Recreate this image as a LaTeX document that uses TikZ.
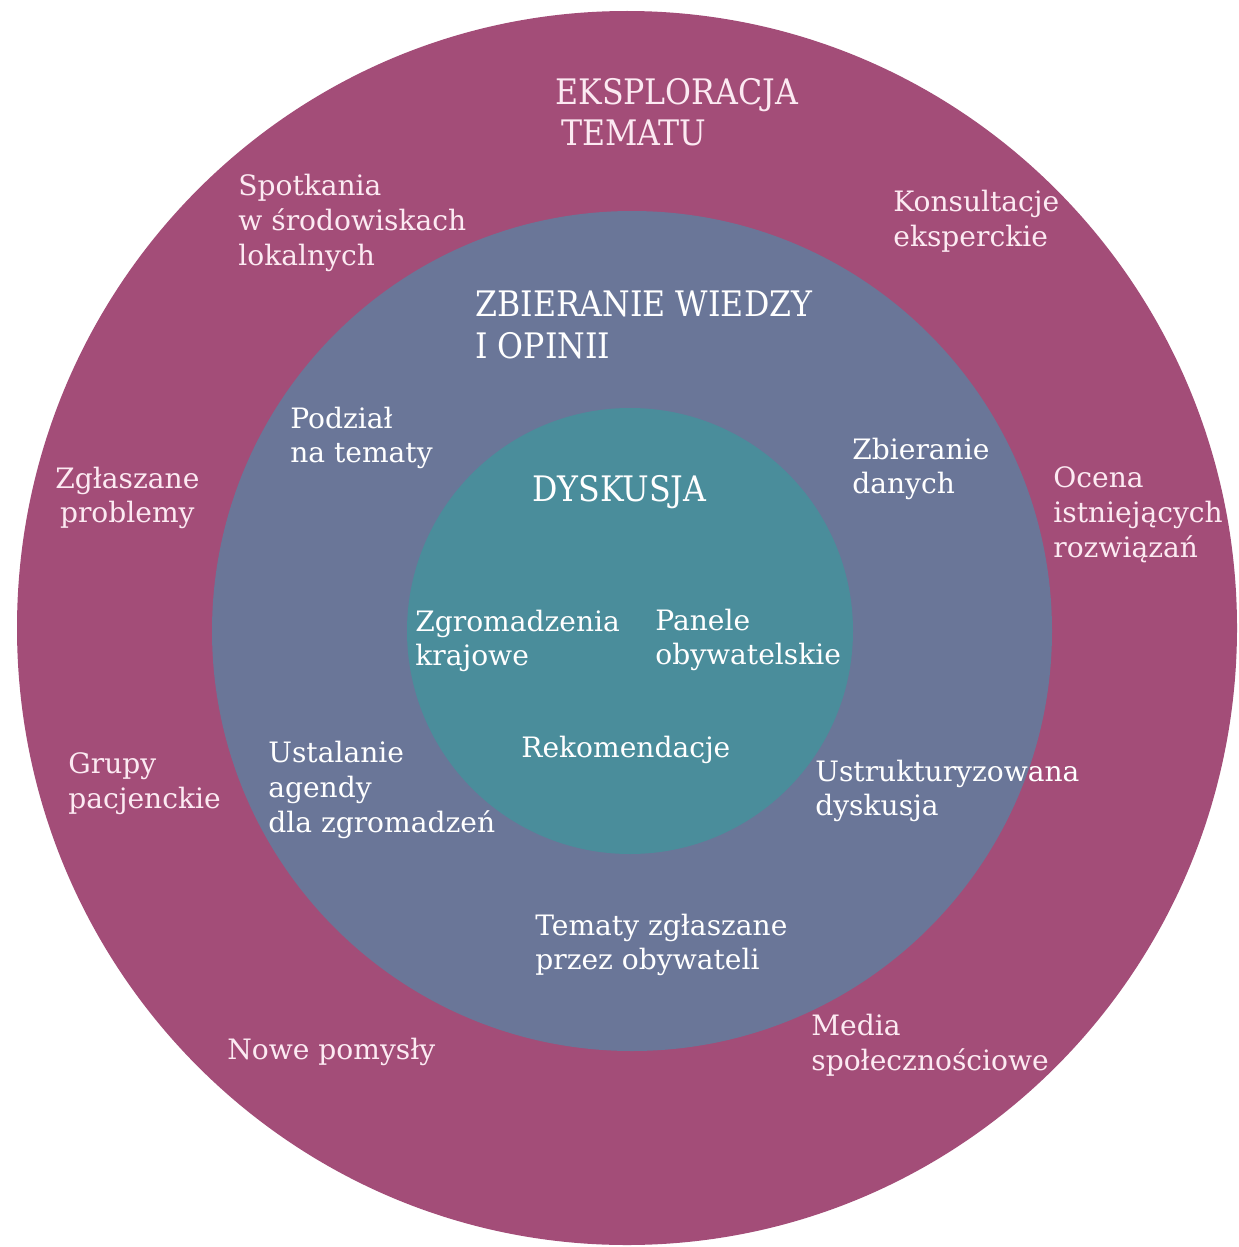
\documentclass[tikz,border=0pt]{standalone}
\usepackage{xcolor}
\usepackage{fontspec}
\setmainfont{DejaVu Serif}
\newfontfamily\headfont{DejaVu Serif Condensed}
\usepackage{tikz}

\definecolor{outerring}{HTML}{A34D78}
\definecolor{midring}{HTML}{6A7698}
\definecolor{innerdisc}{HTML}{4A8D9B}
\definecolor{pinktext}{HTML}{FCEAF2}

\begin{document}
\begin{tikzpicture}[
    x=0.02cm, y=-0.02cm,
    item/.style={anchor=west, align=left, inner sep=0pt, text=white,
                 font=\fontsize{16}{19.8}\selectfont},
    outeritem/.style={item, text=pinktext},
    head/.style={anchor=west, align=left, inner sep=0pt, text=white,
                 font=\headfont\fontsize{20}{23.5}\selectfont},
]
\useasboundingbox[fill=white] (0,0) rectangle (1238,1247);

% === rings ===
\fill[outerring] (627,628) ellipse [x radius=610, y radius=617];
\fill[midring]   (632,631) circle [radius=420];
\fill[innerdisc] (630,631) circle [radius=223];

% === outer ring: Eksploracja tematu ===
\node[head, text=pinktext] (eksp) at (555,112) {EKSPLORACJA\\\,TEMATU};
\node[outeritem] (spot) at (238,223) {Spotkania\\w środowiskach\\lokalnych};
\node[outeritem] (kons) at (893,221) {Konsultacje\\eksperckie};
\node[outeritem] (zgla) at (55,498)  {Zgłaszane\\\,problemy};
\node[outeritem] (ocen) at (1053,515) {Ocena\\istniejących\\rozwiązań};
\node[outeritem] (grup) at (68,784)  {Grupy\\pacjenckie};
\node[outeritem] (nowe) at (227,1052) {Nowe pomysły};
\node[outeritem] (medi) at (811,1045) {Media\\społecznościowe};

% === middle ring: Zbieranie wiedzy ===
\node[head] (zbwi) at (475,325) {ZBIERANIE WIEDZY\\I OPINII};
\node[item] (podz) at (290,438) {Podział\\na tematy};
\node[item] (zbda) at (852,469) {Zbieranie\\danych};
\node[item] (usta) at (268,790) {Ustalanie\\agendy\\dla zgromadzeń};
\node[item] (ustr) at (815,791) {Ustrukturyzowana\\dyskusja};
\node[item] (tema) at (535,945) {Tematy zgłaszane\\przez obywateli};

% === inner disc: Dyskusja ===
\node[head] (dysk) at (532,492) {DYSKUSJA};
\node[item] (zgro) at (415,641) {Zgromadzenia\\krajowe};
\node[item] (pane) at (655,640) {Panele\\obywatelskie};
\node[item] (reko) at (521,750) {Rekomendacje};

\end{tikzpicture}
\end{document}
